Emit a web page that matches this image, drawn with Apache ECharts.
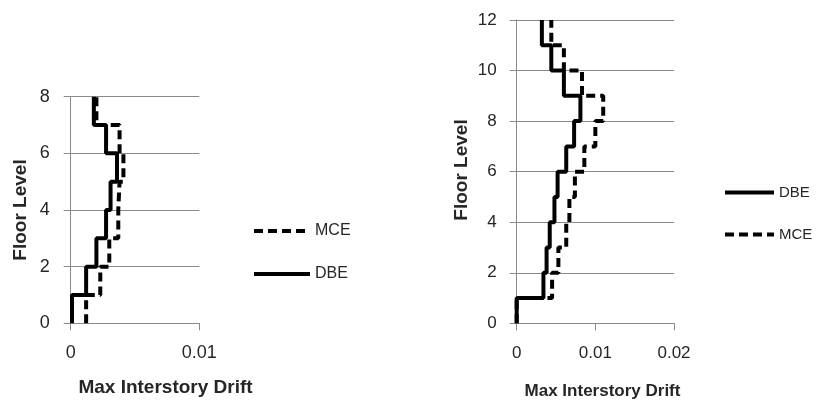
<!DOCTYPE html>
<html><head><meta charset="utf-8">
<script src="https://cdn.jsdelivr.net/npm/echarts@6/dist/echarts.min.js"></script>
<style>html,body{margin:0;padding:0;background:#fff}#c{width:816px;height:401px}</style>
</head><body><div id="c"></div>
<script>
// Storey drift values (storey i spans floor i to floor i+1)
const leftDBE  = [0.0001, 0.0012, 0.0020, 0.00275, 0.0031, 0.0036, 0.00275, 0.0018];
const leftMCE  = [0.0012, 0.0023, 0.0030, 0.0037, 0.0038, 0.0041, 0.0038, 0.0020];
const rightDBE = [0.0000, 0.0034, 0.0038, 0.0042, 0.0048, 0.0052, 0.0063, 0.0073, 0.0081, 0.0060, 0.0044, 0.0032];
const rightMCE = [0.0000, 0.0045, 0.0053, 0.0063, 0.0067, 0.0074, 0.0086, 0.0100, 0.0110, 0.0083, 0.0060, 0.0044];
const leftXMax = 0.01, rightXMax = 0.02, xStep = 0.01;
const leftYMax = 8, rightYMax = 12, yStep = 2;
const xTitle = 'Max Interstory Drift';
const yTitle = 'Floor Level';

function steps(drifts) {
  const pts = [];
  drifts.forEach((d, i) => { pts.push([d, i]); pts.push([d, i + 1]); });
  return pts;
}

const FONT = 'Liberation Sans, Arial, sans-serif';
const GREY = '#8a8a8a';
const TXT = '#262626';
const DASH = [9, 5];

function xAxis(idx, max, fs, margin) {
  return {
    type: 'value', gridIndex: idx, min: 0, max: max, interval: xStep,
    axisLine: { show: true, lineStyle: { color: GREY, width: 1 } },
    axisTick: { show: true, inside: false, length: 7, lineStyle: { color: GREY } },
    axisLabel: { fontSize: fs, fontFamily: FONT, color: TXT, margin: margin,
      formatter: v => (v === 0 ? '0' : String(+v.toFixed(4))) },
    splitLine: { show: false }
  };
}
function yAxis(idx, max, fs, margin) {
  return {
    type: 'value', gridIndex: idx, min: 0, max: max, interval: yStep,
    axisLine: { show: true, onZero: false, lineStyle: { color: GREY, width: 1 } },
    axisTick: { show: true, inside: false, length: 7, lineStyle: { color: GREY } },
    axisLabel: { fontSize: fs, fontFamily: FONT, color: TXT, margin: margin },
    splitLine: { show: true, lineStyle: { color: GREY, width: 1 } }
  };
}
function line(name, data, xi, dashed) {
  return {
    type: 'line', name: name, xAxisIndex: xi, yAxisIndex: xi, data: data,
    symbol: 'none', animation: false, z: dashed ? 2 : 3,
    itemStyle: { color: '#000' },
    lineStyle: { color: '#000', width: 4, type: dashed ? DASH : 'solid' }
  };
}
function legend(names, left, top, w, fs) {
  return {
    data: names, orient: 'vertical', left: left, top: top, padding: 0,
    itemWidth: w, itemHeight: 14, itemGap: 27,
    itemStyle: { opacity: 0 },
    lineStyle: { width: 4 },
    textStyle: { fontSize: fs, fontFamily: FONT, color: TXT }
  };
}

const chart = echarts.init(document.getElementById('c'), null, { renderer: 'canvas' });
chart.setOption({
  backgroundColor: '#fff',
  animation: false,
  grid: [
    { left: 70.7, top: 96.7, width: 128.6, height: 226.6 },
    { left: 516.7, top: 20, width: 157.3, height: 303.3 }
  ],
  xAxis: [xAxis(0, leftXMax, 18, 21), xAxis(1, rightXMax, 17, 22)],
  yAxis: [yAxis(0, leftYMax, 18, 21), yAxis(1, rightYMax, 17, 20)],
  legend: [
    legend(['MCE', 'DBE'], 252, 223, 56, 16),
    legend(['DBE', 'MCE'], 723, 185, 49, 15)
  ],
  series: [
    line('MCE', steps(leftMCE), 0, true),
    line('DBE', steps(leftDBE), 0, false),
    line('DBE', steps(rightDBE), 1, false),
    line('MCE', steps(rightMCE), 1, true)
  ],
  graphic: [
    { type: 'text', x: 165.5, y: 388, style: { text: xTitle, font: 'bold 19px ' + FONT, fill: TXT, align: 'center', verticalAlign: 'middle' } },
    { type: 'text', x: 602.5, y: 391, style: { text: xTitle, font: 'bold 17px ' + FONT, fill: TXT, align: 'center', verticalAlign: 'middle' } },
    { type: 'text', x: 21, y: 210, rotation: Math.PI / 2, style: { text: yTitle, font: 'bold 19px ' + FONT, fill: TXT, align: 'center', verticalAlign: 'middle' } },
    { type: 'text', x: 462, y: 170, rotation: Math.PI / 2, style: { text: yTitle, font: 'bold 19px ' + FONT, fill: TXT, align: 'center', verticalAlign: 'middle' } }
  ]
});
</script>
</body></html>
